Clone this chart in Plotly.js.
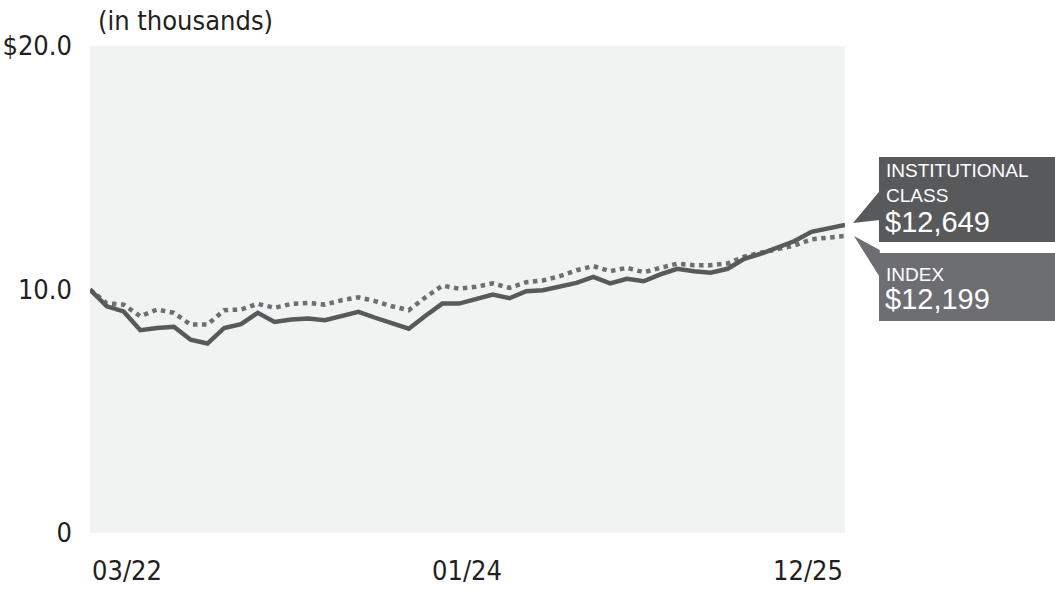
<!DOCTYPE html>
<html>
<head>
<meta charset="utf-8">
<script src="https://cdn.plot.ly/plotly-3.0.1.min.js"></script>
<style>html,body{margin:0;padding:0;background:#fff;}#chart{width:1055px;height:590px;}</style>
</head>
<body>
<div id="chart"></div>
<script>
// Month index 0 = 03/22 ... 45 = 12/25
var months = ["03/22","04/22","05/22","06/22","07/22","08/22","09/22","10/22","11/22","12/22",
  "01/23","02/23","03/23","04/23","05/23","06/23","07/23","08/23","09/23","10/23","11/23","12/23",
  "01/24","02/24","03/24","04/24","05/24","06/24","07/24","08/24","09/24","10/24","11/24","12/24",
  "01/25","02/25","03/25","04/25","05/25","06/25","07/25","08/25","09/25","10/25","11/25","12/25"];
var institutional = [10.0,9.31,9.10,8.33,8.42,8.47,7.94,7.78,8.42,8.58,
  9.04,8.67,8.77,8.81,8.74,8.93,9.08,8.84,8.60,8.39,
  8.92,9.42,9.42,9.59,9.79,9.64,9.93,9.97,10.14,10.27,
  10.52,10.25,10.44,10.34,10.62,10.85,10.75,10.69,10.85,11.26,
  11.47,11.71,11.99,12.37,12.49,12.649];
var indexSeries = [10.0,9.43,9.38,8.90,9.18,9.04,8.56,8.56,9.15,9.18,
  9.41,9.25,9.41,9.45,9.38,9.56,9.68,9.52,9.31,9.15,
  9.68,10.16,10.03,10.11,10.25,10.07,10.30,10.37,10.55,10.79,
  10.96,10.75,10.89,10.71,10.89,11.06,11.00,11.00,11.07,11.35,
  11.51,11.65,11.81,12.06,12.13,12.199];
var xTickLabels = ["03/22","01/24","12/25"];
var yTickVals = [0,10,20];
var yTickText = ["0","10.0","$20.0"];
var unitLabel = "(in thousands)";
var instLabel = "INSTITUTIONAL<br>CLASS";
var instValue = "$12,649";
var idxLabel = "INDEX";
var idxValue = "$12,199";

var axisFont = {family:"'DejaVu Sans Condensed', 'DejaVu Sans', sans-serif", size:27, color:"#231f20"};
var x = months.map(function(_, i){ return i; });

var traces = [
  {x:x, y:indexSeries, type:"scatter", mode:"lines", name:"Index",
   line:{color:"#6d6e71", width:4.5, dash:"dot"}, hoverinfo:"skip"},
  {x:x, y:institutional, type:"scatter", mode:"lines", name:"Institutional Class",
   line:{color:"#58595b", width:4.5}, hoverinfo:"skip"}
];

var tickAnn = [
  {x:x[months.indexOf(xTickLabels[0])], xanchor:"left", xshift:0},
  {x:x[months.indexOf(xTickLabels[1])], xanchor:"center", xshift:8},
  {x:x[months.indexOf(xTickLabels[2])], xanchor:"right", xshift:0}
].map(function(a, k){
  return {xref:"x", yref:"paper", x:a.x, y:-0.076, xanchor:a.xanchor, yanchor:"middle", xshift:a.xshift,
    text:xTickLabels[k], showarrow:false, font:axisFont};
});

var boxFont = {family:"'Liberation Sans', Arial, sans-serif", color:"#ffffff"};
var annotations = tickAnn.concat([
  {xref:"paper", yref:"paper", x:0.008, y:1.053, xanchor:"left", yanchor:"middle",
   text:unitLabel, showarrow:false, font:axisFont},
  {xref:"paper", yref:"paper", x:1.052, y:0.770, xanchor:"left", yanchor:"top", align:"left",
   text:instLabel, showarrow:false, font:Object.assign({size:19}, boxFont)},
  {xref:"paper", yref:"paper", x:1.050, y:0.638, xanchor:"left", yanchor:"middle", align:"left",
   text:instValue, showarrow:false, font:Object.assign({size:29}, boxFont)},
  {xref:"paper", yref:"paper", x:1.052, y:0.531, xanchor:"left", yanchor:"middle", align:"left",
   text:idxLabel, showarrow:false, font:Object.assign({size:19}, boxFont)},
  {xref:"paper", yref:"paper", x:1.050, y:0.481, xanchor:"left", yanchor:"middle", align:"left",
   text:idxValue, showarrow:false, font:Object.assign({size:29}, boxFont)}
]);

var shapes = [
  {type:"rect", xref:"paper", yref:"paper", x0:1.045, x1:1.30, y0:0.5975, y1:0.7721,
   fillcolor:"#58595b", line:{width:0}, layer:"above"},
  {type:"rect", xref:"paper", yref:"paper", x0:1.045, x1:1.30, y0:0.4353, y1:0.5749,
   fillcolor:"#6d6e71", line:{width:0}, layer:"above"},
  {type:"path", xref:"paper", yref:"paper", path:"M 1.0106 0.6366 L 1.046 0.7023 L 1.046 0.6427 Z",
   fillcolor:"#58595b", line:{width:0}, layer:"above"},
  {type:"path", xref:"paper", yref:"paper", path:"M 1.0119 0.6099 L 1.046 0.5811 L 1.046 0.5257 Z",
   fillcolor:"#6d6e71", line:{width:0}, layer:"above"}
];

var layout = {
  width:1055, height:590,
  margin:{l:90, r:210, t:46, b:57, pad:0},
  paper_bgcolor:"#ffffff", plot_bgcolor:"#f1f2f2",
  showlegend:false,
  xaxis:{range:[0, months.length-1], showgrid:false, zeroline:false, showticklabels:false,
         ticks:"", showline:false, fixedrange:true},
  yaxis:{range:[0,20], tickvals:yTickVals, ticktext:yTickText, showgrid:false, zeroline:false,
         ticks:"", showline:false, tickfont:axisFont, ticklabelstandoff:17, fixedrange:true},
  annotations:annotations,
  shapes:shapes
};

Plotly.newPlot("chart", traces, layout, {staticPlot:true, displayModeBar:false});
</script>
</body>
</html>
